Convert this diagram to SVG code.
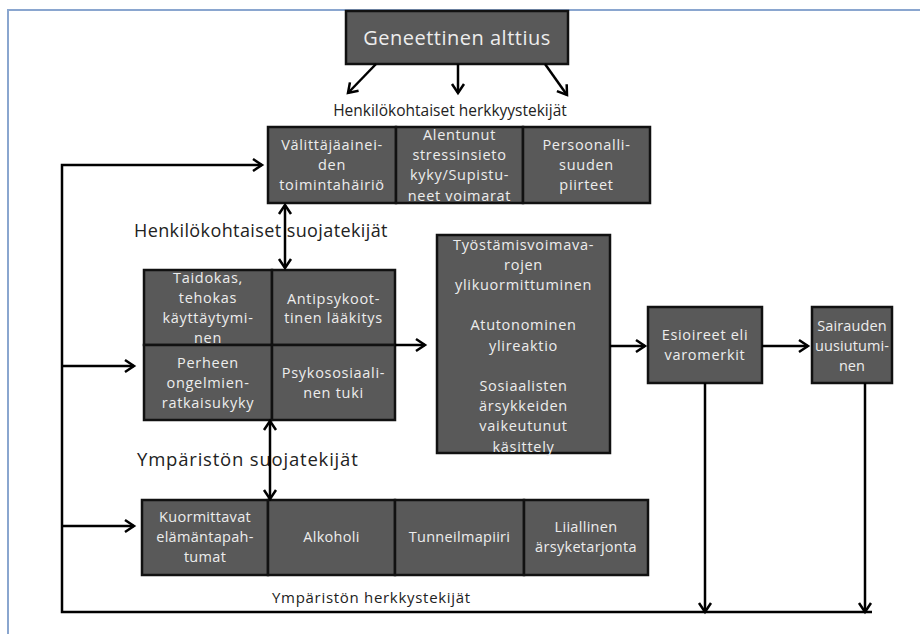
<svg xmlns="http://www.w3.org/2000/svg" width="920" height="634" viewBox="0 0 920 634">
<defs>
<marker id="ah" markerUnits="userSpaceOnUse" markerWidth="16" markerHeight="16" viewBox="0 0 16 16" refX="13" refY="8" orient="auto-start-reverse">
<path d="M4,2 L13,8 L4,14" fill="none" stroke="#000" stroke-width="2.5"/>
</marker>
<style>
.box{fill:#595959;stroke:#111;stroke-width:2.5}
.bt{font-family:"Open Sans","Liberation Sans",sans-serif;font-size:14.5px;letter-spacing:0.7px;fill:#ededed;text-anchor:middle}
.lab{font-family:"Open Sans","Liberation Sans",sans-serif;fill:#222}
.con{fill:none;stroke:#000;stroke-width:2.5}
</style>
</defs>
<rect x="0" y="0" width="920" height="634" fill="#fff"/>
<path d="M8,634 L8,10 L920,10" fill="none" stroke="#8aa6cf" stroke-width="2"/>

<g id="geneettinen">
<rect class="box" x="346" y="11" width="222" height="53"/>
<text x="457" y="45" class="bt" style="font-size:20px;letter-spacing:0.5px">Geneettinen alttius</text>
</g>

<text x="450" y="116" class="lab" text-anchor="middle" font-size="15.5">Henkilökohtaiset herkkyystekijät</text>
<text x="134" y="237" class="lab" font-size="18" letter-spacing="0.4">Henkilökohtaiset suojatekijät</text>
<text x="137" y="466" class="lab" font-size="18.5" letter-spacing="0.8">Ympäristön suojatekijät</text>
<text x="272" y="603" class="lab" font-size="15" letter-spacing="0.7">Ympäristön herkkystekijät</text>

<g id="valittaja">
<rect class="box" x="268" y="127" width="128" height="76"/>
<text class="bt"><tspan x="332" y="150">Välittäjäainei-</tspan><tspan x="332" y="170">den</tspan><tspan x="332" y="190">toimintahäiriö</tspan></text>
</g>
<g id="alentunut">
<rect class="box" x="396" y="127" width="127" height="76"/>
<text class="bt"><tspan x="459.5" y="140">Alentunut</tspan><tspan x="459.5" y="160">stressinsieto</tspan><tspan x="459.5" y="180">kyky/Supistu-</tspan><tspan x="459.5" y="201">neet voimarat</tspan></text>
</g>
<g id="persoonallisuus">
<rect class="box" x="523" y="127" width="127" height="76"/>
<text class="bt"><tspan x="586.5" y="150">Persoonalli-</tspan><tspan x="586.5" y="170">suuden</tspan><tspan x="586.5" y="190">piirteet</tspan></text>
</g>

<g id="taidokas">
<rect class="box" x="144" y="270" width="128" height="75"/>
<text class="bt"><tspan x="208" y="283">Taidokas,</tspan><tspan x="208" y="303">tehokas</tspan><tspan x="208" y="323">käyttäytymi-</tspan><tspan x="208" y="343">nen</tspan></text>
</g>
<g id="antipsykoottinen">
<rect class="box" x="272" y="270" width="123" height="75"/>
<text class="bt"><tspan x="333.5" y="304">Antipsykoot-</tspan><tspan x="333.5" y="323">tinen lääkitys</tspan></text>
</g>
<g id="perheen">
<rect class="box" x="144" y="345" width="128" height="75"/>
<text class="bt"><tspan x="208" y="368">Perheen</tspan><tspan x="208" y="388">ongelmien-</tspan><tspan x="208" y="408">ratkaisukyky</tspan></text>
</g>
<g id="psykososiaalinen">
<rect class="box" x="272" y="345" width="123" height="75"/>
<text class="bt"><tspan x="333.5" y="378">Psykososiaali-</tspan><tspan x="333.5" y="398">nen tuki</tspan></text>
</g>

<g id="tyostamis">
<rect class="box" x="437" y="235" width="173" height="218"/>
<text class="bt"><tspan x="523.5" y="250">Työstämisvoimava-</tspan><tspan x="523.5" y="270">rojen</tspan><tspan x="523.5" y="290">ylikuormittuminen</tspan><tspan x="523.5" y="330">Atutonominen</tspan><tspan x="523.5" y="351">ylireaktio</tspan><tspan x="523.5" y="391">Sosiaalisten</tspan><tspan x="523.5" y="411">ärsykkeiden</tspan><tspan x="523.5" y="431">vaikeutunut</tspan><tspan x="523.5" y="452">käsittely</tspan></text>
</g>

<g id="esioireet">
<rect class="box" x="648" y="307" width="114" height="76"/>
<text class="bt"><tspan x="705" y="340">Esioireet eli</tspan><tspan x="705" y="360">varomerkit</tspan></text>
</g>
<g id="sairauden">
<rect class="box" x="812" y="307" width="80" height="76"/>
<text class="bt" style="letter-spacing:0.1px"><tspan x="852" y="331">Sairauden</tspan><tspan x="852" y="351">uusiutumi-</tspan><tspan x="852" y="371">nen</tspan></text>
</g>

<g id="kuormittavat">
<rect class="box" x="142" y="500" width="126" height="75"/>
<text class="bt" style="letter-spacing:0.3px"><tspan x="205" y="522">Kuormittavat</tspan><tspan x="205" y="542">elämäntapah-</tspan><tspan x="205" y="562">tumat</tspan></text>
</g>
<g id="alkoholi">
<rect class="box" x="268" y="500" width="127" height="75"/>
<text class="bt" style="letter-spacing:0.3px" x="331.5" y="542">Alkoholi</text>
</g>
<g id="tunneilmapiiri">
<rect class="box" x="395" y="500" width="129" height="75"/>
<text class="bt" style="letter-spacing:0.3px" x="459.5" y="542">Tunneilmapiiri</text>
</g>
<g id="liiallinen">
<rect class="box" x="524" y="500" width="124" height="75"/>
<text class="bt" style="letter-spacing:0.3px"><tspan x="586" y="532">Liiallinen</tspan><tspan x="586" y="552">ärsyketarjonta</tspan></text>
</g>

<g id="connectors">
<path class="con" d="M376,64 L348,93" marker-end="url(#ah)"/>
<path class="con" d="M458,64 L458,93" marker-end="url(#ah)"/>
<path class="con" d="M545,64 L567,95" marker-end="url(#ah)"/>
<path class="con" d="M285,205 L285,268" marker-start="url(#ah)" marker-end="url(#ah)"/>
<path class="con" d="M270,421 L270,499" marker-start="url(#ah)" marker-end="url(#ah)"/>
<path class="con" d="M395,345 L425,345" marker-end="url(#ah)"/>
<path class="con" d="M610,346 L645,346" marker-end="url(#ah)"/>
<path class="con" d="M762,346 L808,346" marker-end="url(#ah)"/>
<path class="con" d="M872,612 L62,612 L62,165 L262,165" marker-end="url(#ah)"/>
<path class="con" d="M62,366 L134,366" marker-end="url(#ah)"/>
<path class="con" d="M62,526 L134,526" marker-end="url(#ah)"/>
<path class="con" d="M705,383 L705,612" marker-end="url(#ah)"/>
<path class="con" d="M865,383 L865,612" marker-end="url(#ah)"/>
</g>
</svg>
